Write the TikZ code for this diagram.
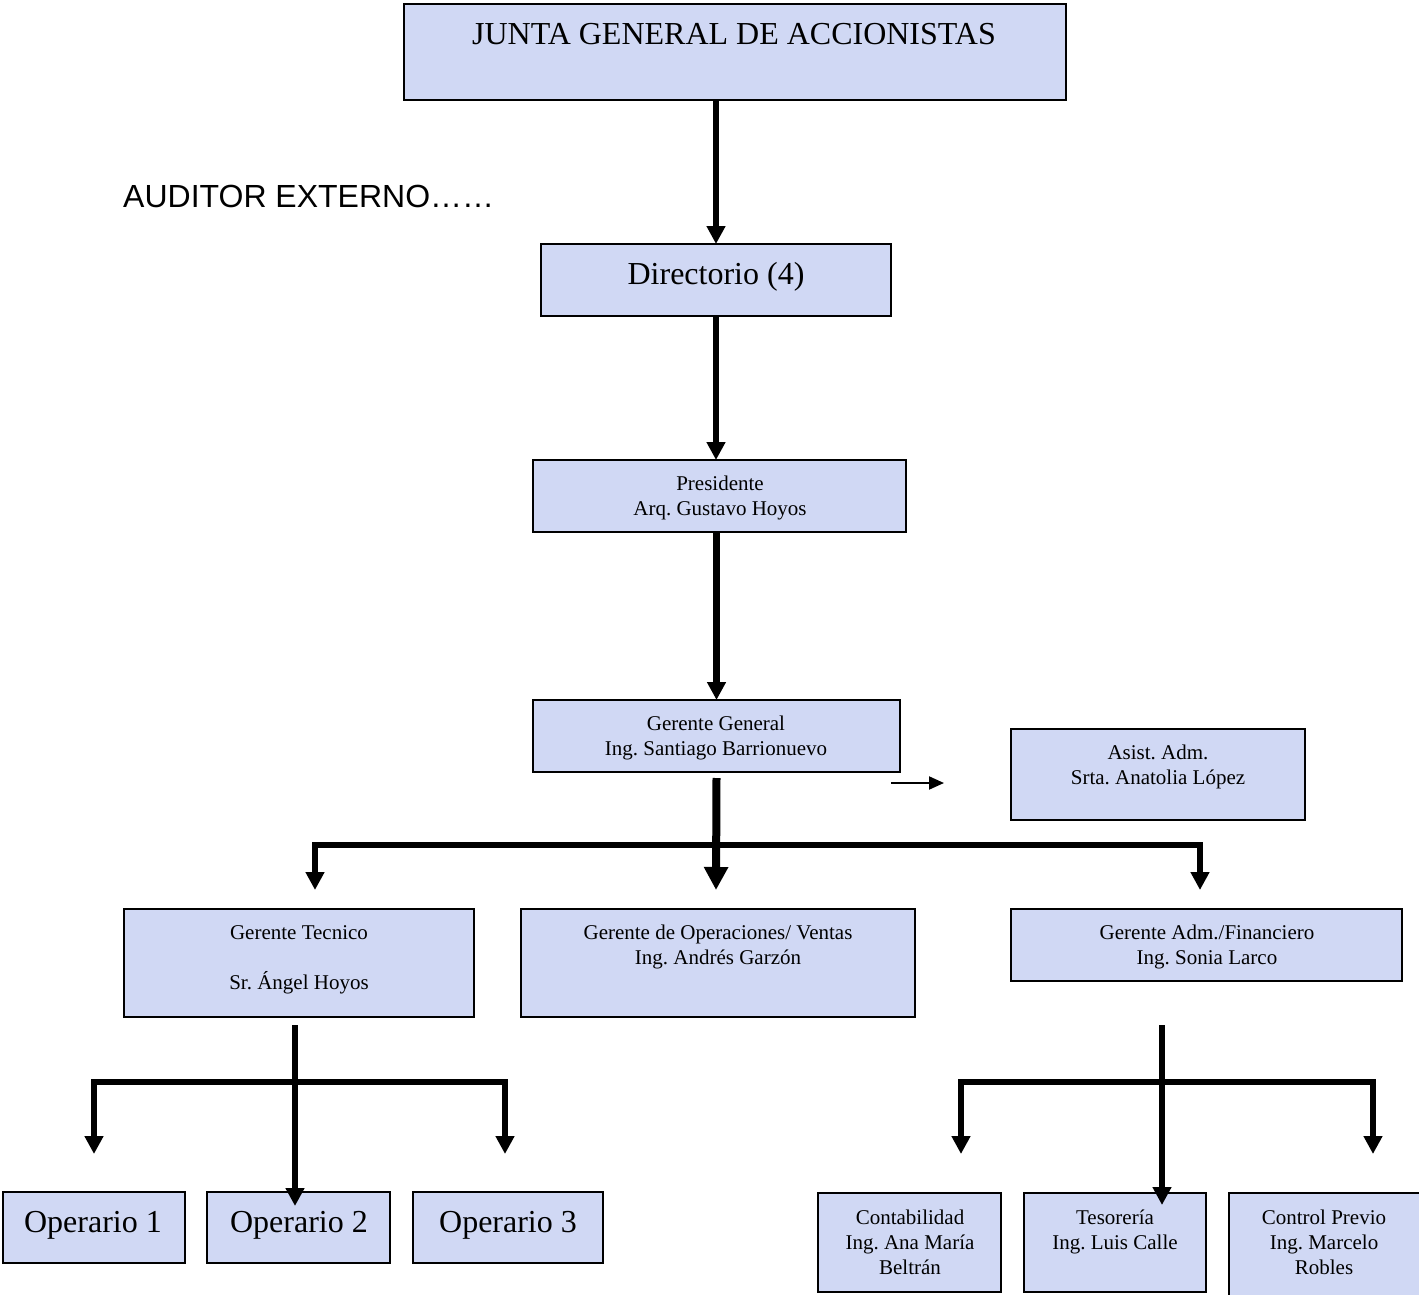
\documentclass[tikz,border=0pt]{standalone}
\usepackage{fontspec}
\setmainfont{Liberation Serif}
\newfontfamily\sansfam{Liberation Sans}
\usetikzlibrary{arrows.meta}
\frenchspacing
\definecolor{boxfill}{RGB}{208,216,244}
\tikzset{
  box/.style={draw=black, line width=2pt, fill=boxfill, rectangle, inner sep=0pt, outer sep=0pt},
  big/.style={font=\fontsize{32}{38}\selectfont, inner sep=0pt, anchor=base},
  small/.style={font=\fontsize{21}{25}\selectfont, inner sep=0pt, anchor=base, align=center},
  link/.style={line width=6.5pt, line join=miter, -{Triangle[width=18pt,length=18pt]}},
  biglink/.style={line width=8pt, -{Triangle[width=23pt,length=23pt]}},
  forklink/.style={line width=6.5pt, line join=miter,
    {Triangle[width=18pt,length=18pt]}-{Triangle[width=18pt,length=18pt]}},
  thinlink/.style={line width=2pt, -{Triangle[width=13pt,length=15pt]}}
}
\begin{document}
\begin{tikzpicture}[x=1pt,y=-1pt]
\useasboundingbox (0,0) rectangle (1419,1295);

% boxes
\node[box, minimum width=662pt, minimum height=96pt] (junta) at (735,52) {};
\node[box, minimum width=350pt, minimum height=72pt] (dir) at (716,280) {};
\node[box, minimum width=373pt, minimum height=72pt] (pres) at (719.5,496) {};
\node[box, minimum width=367pt, minimum height=72pt] (gg) at (716.5,736) {};
\node[box, minimum width=294pt, minimum height=91pt] (asist) at (1158,774.5) {};
\node[box, minimum width=350pt, minimum height=108pt] (tec) at (299,963) {};
\node[box, minimum width=394pt, minimum height=108pt] (ops) at (718,963) {};
\node[box, minimum width=391pt, minimum height=72pt] (adm) at (1206.5,945) {};
\node[box, minimum width=182pt, minimum height=71pt] (op1) at (94,1227.5) {};
\node[box, minimum width=183pt, minimum height=71pt] (op2) at (298.5,1227.5) {};
\node[box, minimum width=190pt, minimum height=71pt] (op3) at (508,1227.5) {};
\node[box, minimum width=183pt, minimum height=99pt] (cont) at (909.5,1242.5) {};
\node[box, minimum width=182pt, minimum height=99pt] (tes) at (1115,1242.5) {};
\node[box, minimum width=194pt, minimum height=108pt] (ctrl) at (1326,1247) {};

% texts (base anchor = baseline of the last line)
\node[big] (junta-t) at (734,45) {JUNTA GENERAL DE ACCIONISTAS};
\node[big, anchor=base west, font=\sansfam\fontsize{32}{38}\selectfont] (auditor) at (123,207) {AUDITOR EXTERNO……};
\node[big] (dir-t) at (716,284) {Directorio (4)};
\node[small] (pres-t) at (720,515) {Presidente\\Arq. Gustavo Hoyos};
\node[small] (gg-t) at (716,755) {Gerente General\\Ing. Santiago Barrionuevo};
\node[small] (asist-t) at (1158,784) {Asist. Adm.\\Srta. Anatolia López};
\node[small] (tec-t) at (299,989) {Gerente Tecnico\\[25pt]Sr. Ángel Hoyos};
\node[small] (ops-t) at (718,964) {Gerente de Operaciones/ Ventas\\Ing. Andrés Garzón};
\node[small] (adm-t) at (1207,964) {Gerente Adm./Financiero\\Ing. Sonia Larco};
\node[big] (op1-t) at (93,1232) {Operario 1};
\node[big] (op2-t) at (299,1232) {Operario 2};
\node[big] (op3-t) at (508,1232) {Operario 3};
\node[small] (cont-t) at (910,1274) {Contabilidad\\Ing. Ana María\\Beltrán};
\node[small] (tes-t) at (1115,1249) {Tesorería\\Ing. Luis Calle};
\node[small] (ctrl-t) at (1324,1274) {Control Previo\\Ing. Marcelo\\Robles};

% free ends of connectors
\coordinate (asist-a) at (891,783);
\coordinate (asist-b) at (944,783);
\coordinate (gg-tip) at (716,890);
\coordinate (fork-l) at (315,890);
\coordinate (fork-r) at (1200,890);
\coordinate (tec-l) at (94,1154);
\coordinate (tec-r) at (505,1154);
\coordinate (adm-l) at (961,1154);
\coordinate (adm-r) at (1373,1154);

% connectors
\draw[link] (junta.south -| dir.north) -- (dir.north);
\draw[link] (dir.south) -- (dir.south |- pres.north);
\draw[link] (gg.north |- pres.south) -- (gg.north);
\draw[thinlink] (asist-a) -- (asist-b);

\draw[forklink] (fork-l) -- (315,845) -- (1200,845) -- (fork-r);
\draw[biglink] ([yshift=-6pt]gg.south) -- (gg-tip);

\draw[forklink] (tec-l) -- (94,1082) -- (505,1082) -- (tec-r);
\draw[link] ([xshift=-4pt,yshift=-8pt]tec.south) -- ([xshift=-3.5pt,yshift=-14pt]op2.north);

\draw[forklink] (adm-l) -- (961,1082) -- (1373,1082) -- (adm-r);
\draw[link] ([xshift=-44.5pt,yshift=-44pt]adm.south) -- ([xshift=47pt,yshift=-12pt]tes.north);
\end{tikzpicture}
\end{document}
